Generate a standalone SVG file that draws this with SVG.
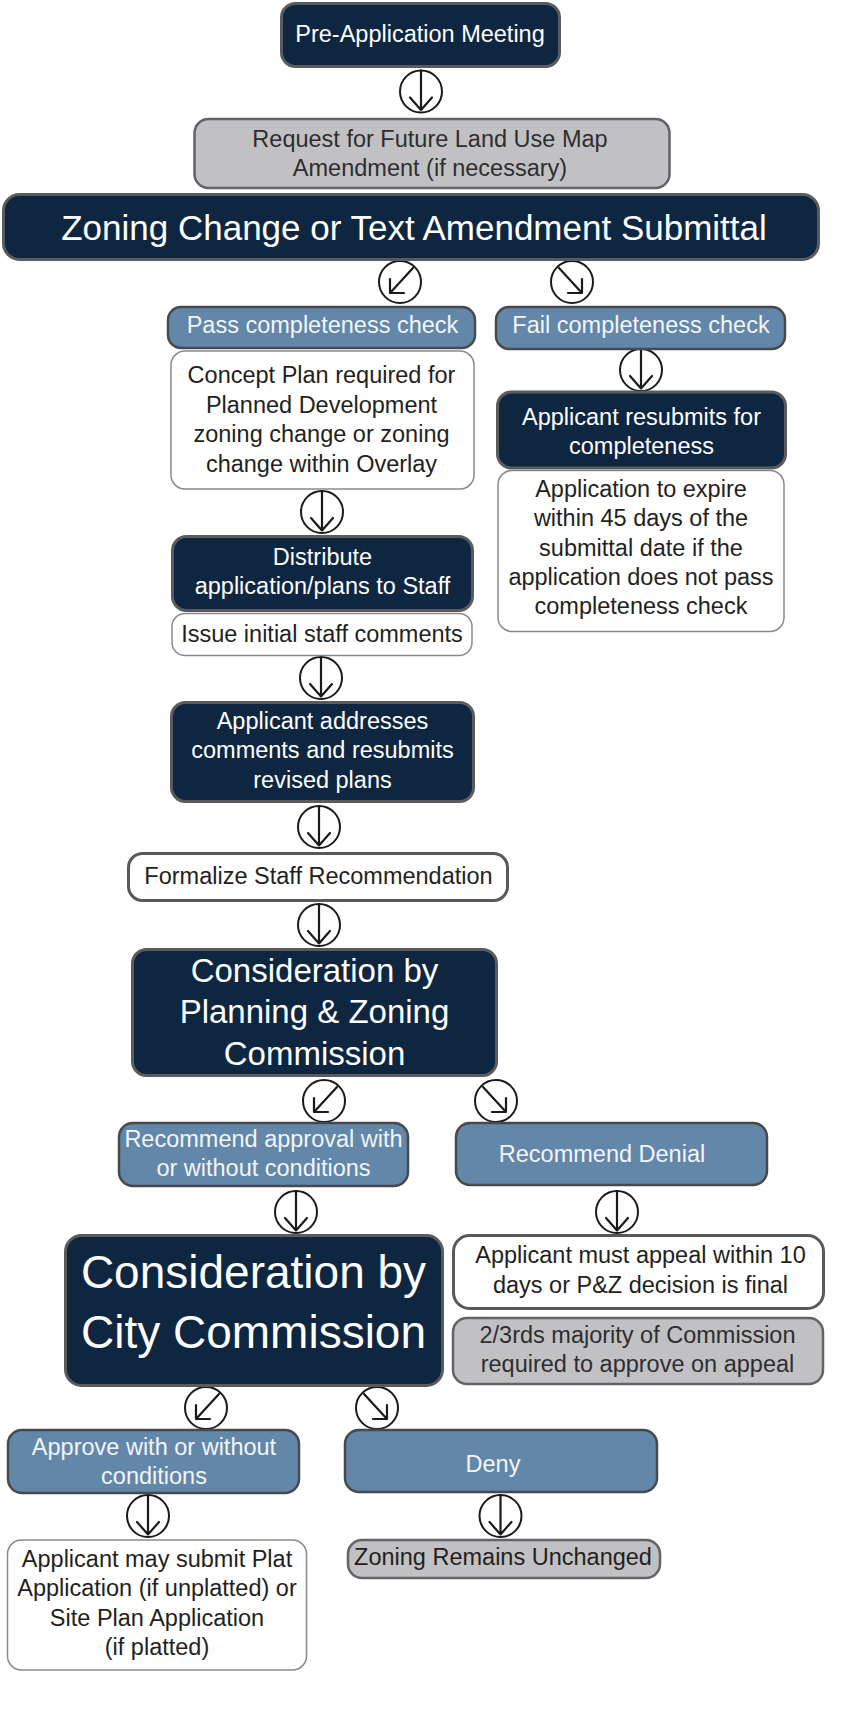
<svg xmlns="http://www.w3.org/2000/svg" xmlns:xlink="http://www.w3.org/1999/xlink" width="847" height="1718" viewBox="0 0 847 1718">
<style>
.navy{fill:#0e2640;stroke:#5a5b5d;stroke-width:3}
.steel{fill:#6287a8;stroke:#47494c;stroke-width:2.5}
.gray{fill:#c1c1c3;stroke:#626366;stroke-width:2.5}
.white{fill:#ffffff;stroke:#8a8a8c;stroke-width:1.5}
.whiteB{fill:#ffffff;stroke:#58595b;stroke-width:3}
.t{font-family:"Liberation Sans",Arial,sans-serif;font-size:23.5px;text-anchor:middle}
.w{fill:#ffffff}
.s{fill:#f2f5f9}
.k{fill:#231f20}
.g{fill:#2e2e30}
.arr circle{fill:#ffffff;stroke:#1a1a1a;stroke-width:2}
.arr path{fill:none;stroke:#1a1a1a;stroke-width:2.2;stroke-linecap:round;stroke-linejoin:round}
</style>
<defs>
<g id="arrD" class="arr"><circle cx="0" cy="0" r="21"/><path d="M0,-21 V18.5 M-11,6 L0,18.5 L11,6"/></g>
<g id="arrDL" class="arr"><circle cx="0" cy="0" r="21"/><path d="M13,-14 L-10,11 M-10,-3 L-10,11 L4,11"/></g>
<g id="arrDR" class="arr"><circle cx="0" cy="0" r="21"/><path d="M-13,-14 L10,11 M10,-3 L10,11 L-4,11"/></g>
</defs>
<rect width="847" height="1718" fill="#ffffff"/>

<g id="connectors">
<use xlink:href="#arrD" href="#arrD" transform="translate(421,91.5)"/>
<use xlink:href="#arrDL" href="#arrDL" transform="translate(400,282)"/>
<use xlink:href="#arrDR" href="#arrDR" transform="translate(572,282)"/>
<use xlink:href="#arrD" href="#arrD" transform="translate(641,370)"/>
<use xlink:href="#arrD" href="#arrD" transform="translate(322,512)"/>
<use xlink:href="#arrD" href="#arrD" transform="translate(321,678)"/>
<use xlink:href="#arrD" href="#arrD" transform="translate(319,827)"/>
<use xlink:href="#arrD" href="#arrD" transform="translate(319,925)"/>
<use xlink:href="#arrDL" href="#arrDL" transform="translate(324,1101)"/>
<use xlink:href="#arrDR" href="#arrDR" transform="translate(496,1101)"/>
<use xlink:href="#arrD" href="#arrD" transform="translate(296,1212)"/>
<use xlink:href="#arrD" href="#arrD" transform="translate(617,1212)"/>
<use xlink:href="#arrDL" href="#arrDL" transform="translate(206,1408)"/>
<use xlink:href="#arrDR" href="#arrDR" transform="translate(377,1408)"/>
<use xlink:href="#arrD" href="#arrD" transform="translate(148,1516)"/>
<use xlink:href="#arrD" href="#arrD" transform="translate(500.5,1516)"/>
</g>

<g id="pre-application">
<rect class="navy" x="281.5" y="3.5" width="278" height="63" rx="14"/>
<text class="t w" x="420" y="41.7">Pre-Application Meeting</text>
</g>

<g id="flum-request">
<rect class="gray" x="194.5" y="119" width="475" height="69" rx="14"/>
<text class="t g" x="430" y="146.7">Request for Future Land Use Map</text>
<text class="t g" x="430" y="176">Amendment (if necessary)</text>
</g>

<g id="submittal">
<rect class="navy" x="3.5" y="194.5" width="815" height="65" rx="16"/>
<text class="t w" x="414" y="240" style="font-size:35px">Zoning Change or Text Amendment Submittal</text>
</g>

<g id="pass-check">
<rect class="steel" x="168" y="307" width="307" height="41" rx="13"/>
<text class="t s" x="322.5" y="332.7">Pass completeness check</text>
</g>

<g id="fail-check">
<rect class="steel" x="496" y="307" width="289" height="42" rx="13"/>
<text class="t s" x="641" y="332.7">Fail completeness check</text>
</g>

<g id="concept-plan">
<rect class="white" x="171" y="351" width="303" height="138" rx="14"/>
<text class="t k" x="321.5" y="383">Concept Plan required for</text>
<text class="t k" x="321.5" y="412.5">Planned Development</text>
<text class="t k" x="321.5" y="442">zoning change or zoning</text>
<text class="t k" x="321.5" y="471.5">change within Overlay</text>
</g>

<g id="resubmit-completeness">
<rect class="navy" x="497.5" y="392" width="288" height="76" rx="14"/>
<text class="t w" x="641.5" y="425">Applicant resubmits for</text>
<text class="t w" x="641.5" y="454">completeness</text>
</g>

<g id="expire-note">
<rect class="white" x="498" y="470.5" width="286" height="161" rx="14"/>
<text class="t k" x="641" y="497.3">Application to expire</text>
<text class="t k" x="641" y="526.3">within 45 days of the</text>
<text class="t k" x="641" y="555.7">submittal date if the</text>
<text class="t k" x="641" y="585">application does not pass</text>
<text class="t k" x="641" y="614.3">completeness check</text>
</g>

<g id="distribute">
<rect class="navy" x="172.5" y="536.5" width="300" height="74" rx="14"/>
<text class="t w" x="322.5" y="565">Distribute</text>
<text class="t w" x="322.5" y="594">application/plans to Staff</text>
</g>

<g id="initial-comments">
<rect class="white" x="172" y="613.5" width="300" height="42" rx="13"/>
<text class="t k" x="322" y="641.7">Issue initial staff comments</text>
</g>

<g id="address-comments">
<rect class="navy" x="171.5" y="702.5" width="302" height="99" rx="14"/>
<text class="t w" x="322.5" y="729">Applicant addresses</text>
<text class="t w" x="322.5" y="758.3">comments and resubmits</text>
<text class="t w" x="322.5" y="787.7">revised plans</text>
</g>

<g id="staff-recommendation">
<rect class="whiteB" x="128.5" y="853.5" width="379" height="47" rx="14"/>
<text class="t k" x="318.5" y="884.3">Formalize Staff Recommendation</text>
</g>

<g id="pz-consideration">
<rect class="navy" x="132.5" y="949.5" width="364" height="126" rx="14"/>
<text class="t w" x="314.5" y="981.7" style="font-size:33px">Consideration by</text>
<text class="t w" x="314.5" y="1023.3" style="font-size:33px">Planning &amp; Zoning</text>
<text class="t w" x="314.5" y="1065" style="font-size:33px">Commission</text>
</g>

<g id="recommend-approval">
<rect class="steel" x="119" y="1123" width="289" height="63" rx="14"/>
<text class="t s" x="263.5" y="1146.7">Recommend approval with</text>
<text class="t s" x="263.5" y="1176">or without conditions</text>
</g>

<g id="recommend-denial">
<rect class="steel" x="456" y="1123" width="311" height="62" rx="14"/>
<text class="t s" x="602" y="1161.7">Recommend Denial</text>
</g>

<g id="city-consideration">
<rect class="navy" x="65.5" y="1235.5" width="377" height="150" rx="16"/>
<text class="t w" x="253.5" y="1288.3" style="font-size:46px">Consideration by</text>
<text class="t w" x="253.5" y="1348.3" style="font-size:46px">City Commission</text>
</g>

<g id="appeal-note">
<rect class="whiteB" x="453.5" y="1235.5" width="370" height="73" rx="16"/>
<text class="t k" x="640.5" y="1263.3">Applicant must appeal within 10</text>
<text class="t k" x="640.5" y="1292.7">days or P&amp;Z decision is final</text>
</g>

<g id="majority-note">
<rect class="gray" x="453" y="1318" width="370" height="66" rx="14"/>
<text class="t g" x="637.5" y="1343.3">2/3rds majority of Commission</text>
<text class="t g" x="637.5" y="1372.3">required to approve on appeal</text>
</g>

<g id="approve">
<rect class="steel" x="8" y="1430" width="291" height="63" rx="14"/>
<text class="t s" x="154" y="1455">Approve with or without</text>
<text class="t s" x="154" y="1484">conditions</text>
</g>

<g id="deny">
<rect class="steel" x="345" y="1430" width="312" height="62" rx="14"/>
<text class="t s" x="493" y="1471.7">Deny</text>
</g>

<g id="plat-application">
<rect class="white" x="7.5" y="1540" width="299" height="130" rx="14"/>
<text class="t k" x="157" y="1566.7">Applicant may submit Plat</text>
<text class="t k" x="157" y="1596">Application (if unplatted) or</text>
<text class="t k" x="157" y="1625.7">Site Plan Application</text>
<text class="t k" x="157" y="1655">(if platted)</text>
</g>

<g id="zoning-unchanged">
<rect class="gray" x="348" y="1540" width="312" height="38" rx="14"/>
<text class="t k" x="503" y="1565">Zoning Remains Unchanged</text>
</g>
</svg>
